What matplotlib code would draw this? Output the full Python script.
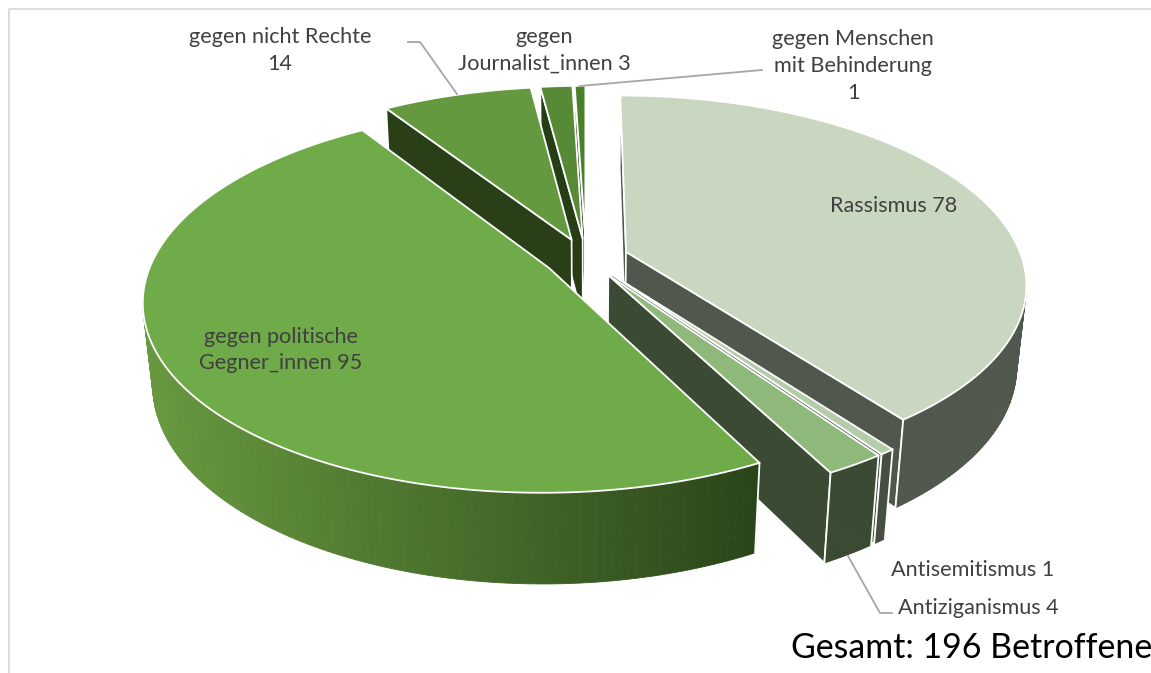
import matplotlib
matplotlib.use('agg')
import matplotlib.pyplot as plt
import numpy as np
from matplotlib.colors import to_rgb

# Daten, im Uhrzeigersinn ab 12 Uhr
namen = ['Rassismus', 'Antisemitismus', 'Antiziganismus', 'gegen politische\nGegner_innen',
         'gegen nicht Rechte\n', 'gegen\nJournalist_innen', 'gegen Menschen\nmit Behinderung\n']
werte = [78, 1, 4, 95, 14, 3, 1]
gesamt_text = 'Gesamt: 196 Betroffene'

farbe_oben = ['#c9d7c0', '#b5ccaa', '#8fb87b', '#6fab49', '#64993f', '#568a36', '#4a7f2c']
farbe_schnitt = ['#50584d', '#454f3f', '#3b4a33', '#2b4519', '#283f17', '#263e16', '#263e16']
farbe_rand_l = ['#50584d', '#454f3f', '#3b4a33', '#68993f', '#4a7f2c', '#4a7f2c', '#4a7f2c']
farbe_rand_r = ['#50584d', '#454f3f', '#3b4a33', '#2a4519', '#4a7f2c', '#4a7f2c', '#4a7f2c']

# Kamera, an die Vorlage angepasst
cx, cy = 586, 258
S, Sy, Sz = 396, 184, 82.5
p, q = 0.165, 0.022
explode = 0.107
cam_v = -1 / p


def proj(u, v, unten=False):
    w = 1 + p * v
    if unten:
        return cx + S * u / (w + q), cy - (Sy * v - Sz) / (w + q)
    return cx + S * u / w, cy - Sy * v / w


fig = plt.figure(figsize=(11.51, 6.73), dpi=100)
ax = fig.add_axes([0, 0, 1, 1])
ax.set_xlim(0, 1151)
ax.set_ylim(673, 0)
ax.axis('off')

# Rahmen
ax.plot([9, 9, 1151], [673, 8.5, 8.5], color='#d9d9d9', lw=1.3, zorder=0)

winkel = np.cumsum([0] + werte) / sum(werte) * 360


def zeichne_stueck(i):
    a0, a1 = np.radians(winkel[i]), np.radians(winkel[i + 1])
    m = (a0 + a1) / 2
    au, av = explode * np.sin(m), explode * np.cos(m)
    th = np.linspace(a0, a1, max(3, int(np.degrees(a1 - a0)) + 2))
    us = au + np.sin(th)
    vs = av + np.cos(th)

    # Schnittflaechen, nur wenn zur Kamera gerichtet
    for ecke, nrm in ((a0, a0 - np.pi / 2), (a1, a1 + np.pi / 2)):
        if np.sin(nrm) * (-au) + np.cos(nrm) * (cam_v - av) <= 0:
            continue
        eu, ev = au + np.sin(ecke), av + np.cos(ecke)
        pts = [proj(au, av), proj(eu, ev), proj(eu, ev, True), proj(au, av, True)]
        ax.fill(*zip(*pts), facecolor=farbe_schnitt[i], edgecolor='white', lw=1.2, joinstyle='round')

    # Aussenseite
    links = np.array(to_rgb(farbe_rand_l[i]))
    rechts = np.array(to_rgb(farbe_rand_r[i]))
    kante = []
    for k in range(len(th) - 1):
        mt = (th[k] + th[k + 1]) / 2
        mu, mv = au + np.sin(mt), av + np.cos(mt)
        if np.sin(mt) * (-mu) + np.cos(mt) * (cam_v - mv) <= 0:
            continue
        pts = [proj(us[k], vs[k]), proj(us[k + 1], vs[k + 1]),
               proj(us[k + 1], vs[k + 1], True), proj(us[k], vs[k], True)]
        t = np.clip((np.mean([pt[0] for pt in pts]) - 145) / (757 - 145), 0, 1)
        c = links + (rechts - links) * t
        ax.fill(*zip(*pts), facecolor=c, edgecolor=c, lw=0.6)
        kante.append(k)
    if kante:
        for k in (kante[0], kante[-1] + 1):
            if k == 0 or k == len(th) - 1:
                ax.plot(*zip(proj(us[k], vs[k]), proj(us[k], vs[k], True)), color='white', lw=1.3)

    # Deckflaeche
    xs, ys = proj(np.r_[au, us], np.r_[av, vs])
    ax.fill(xs, ys, facecolor=farbe_oben[i], edgecolor='white', lw=1.3, joinstyle='round')


for i in [6, 5, 4, 0, 1, 2, 3]:
    zeichne_stueck(i)

# Fuehrungslinien
linie = dict(color='#a6a6a6', lw=1.3, zorder=5)
ax.plot([408, 420, 457], [42, 42, 94], **linie)
ax.plot([580, 762], [86, 70], **linie)
ax.plot([848, 880, 892], [556, 613, 613], **linie)

schrift = dict(family=['Lato', 'DejaVu Sans'], fontsize=15.6, color='#404040', ha='center', va='center',
               linespacing=1.42, zorder=6)
ax.text(894, 206, f'{namen[0]} {werte[0]}', **schrift)
ax.text(973, 570, f'{namen[1]} {werte[1]}', **schrift)
ax.text(978, 608, f'{namen[2]} {werte[2]}', **schrift)
ax.text(281, 350, f'{namen[3]} {werte[3]}', **schrift)
ax.text(280, 50.5, f'{namen[4]}{werte[4]}', **schrift)
ax.text(544, 50.5, f'{namen[5]} {werte[5]}', **schrift)
ax.text(853, 66, f'{namen[6]}{werte[6]}', **schrift)
ax.text(791, 648, gesamt_text, family=['Lato', 'DejaVu Sans'], fontsize=24.4, color='black', ha='left',
        va='center', zorder=6)

fig.savefig('out.png', dpi=100)
